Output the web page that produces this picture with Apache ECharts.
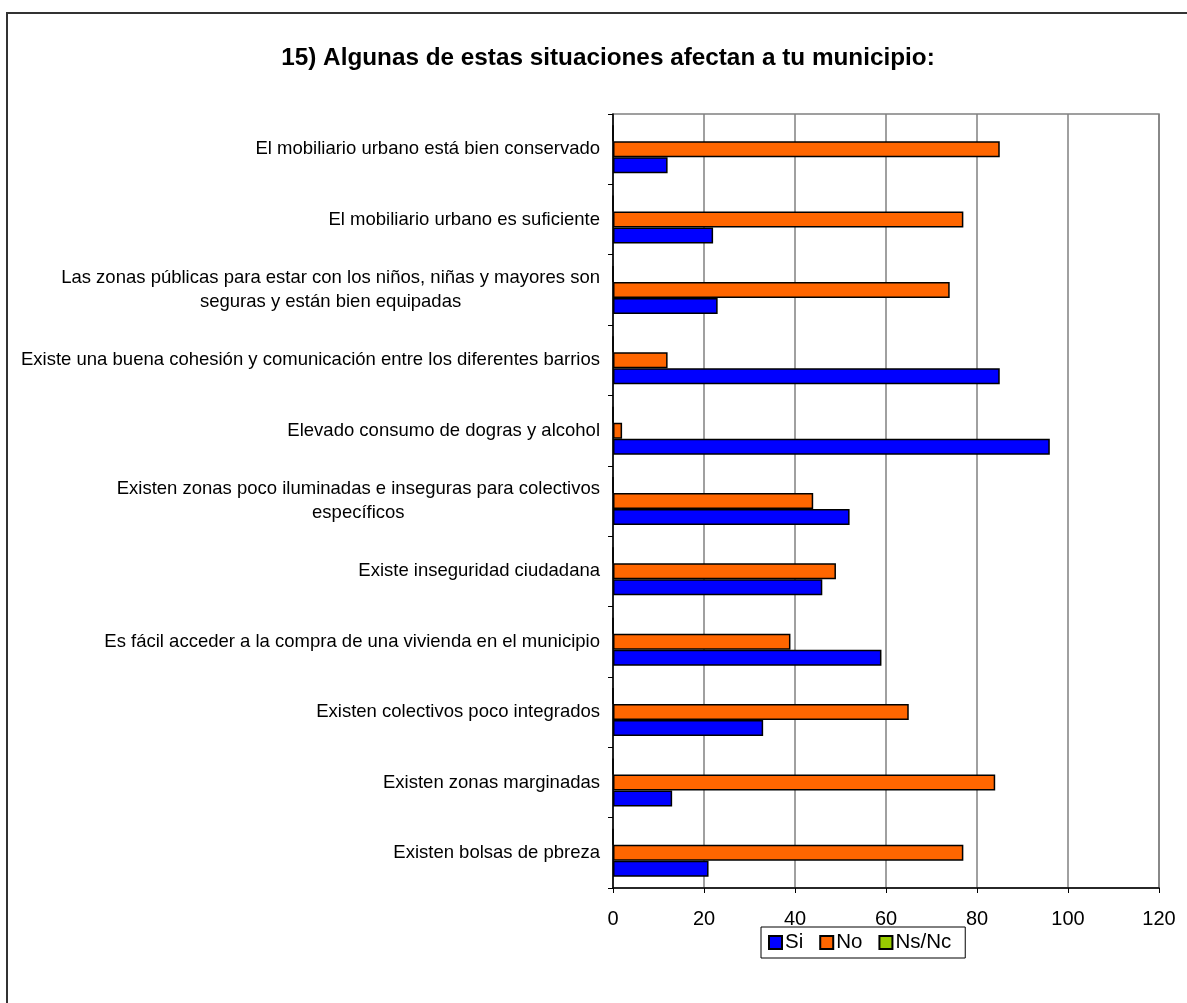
<!DOCTYPE html>
<html>
<head>
<meta charset="utf-8">
<script src="https://cdn.jsdelivr.net/npm/echarts@6/dist/echarts.min.js"></script>
<style>
html,body{margin:0;padding:0;background:#fff;}
#chart{width:1187px;height:1003px;}
</style>
</head>
<body>
<div id="chart"></div>
<script>
// Categories listed top to bottom as in the reference
const categories = [
  "El mobiliario urbano está bien conservado",
  "El mobiliario urbano es suficiente",
  "Las zonas públicas para estar con los niños, niñas y mayores son\nseguras y están bien equipadas",
  "Existe una buena cohesión y comunicación entre los diferentes barrios",
  "Elevado consumo de dogras y alcohol",
  "Existen zonas poco iluminadas e inseguras para colectivos\nespecíficos",
  "Existe inseguridad ciudadana",
  "Es fácil acceder a la compra de una vivienda en el municipio",
  "Existen colectivos poco integrados",
  "Existen zonas marginadas",
  "Existen bolsas de pbreza"
];
const siValues   = [12, 22, 23, 85, 96, 52, 46, 59, 33, 13, 21];
const noValues   = [85, 77, 74, 12, 2, 44, 49, 39, 65, 84, 77];
const nsncValues = [0, 0, 0, 0, 0, 0, 0, 0, 0, 0, 0];
const xTicks = [0, 20, 40, 60, 80, 100, 120];
const legendNames = ['Si', 'No', 'Ns/Nc'];

const FONT = '"Liberation Sans", Arial, sans-serif';
const chart = echarts.init(document.getElementById('chart'), null, {renderer: 'canvas'});

function barSeries(name, data, color) {
  return {
    name: name,
    type: 'bar',
    data: data,
    barWidth: 16,
    barGap: '0%',
    itemStyle: {color: color, borderColor: '#000', borderWidth: 1.5},
    emphasis: {disabled: true}
  };
}

const option = {
  animation: false,
  backgroundColor: '#fff',
  textStyle: {fontFamily: FONT},
  title: {
    text: '15) Algunas de estas situaciones afectan a tu municipio:',
    left: 603,
    textAlign: 'center',
    top: 41,
    textStyle: {fontFamily: FONT, fontSize: 24.3, fontWeight: 'bold', color: '#000'}
  },
  legend: {
    data: legendNames,
    left: 761,
    top: 927,
    orient: 'horizontal',
    icon: 'rect',
    itemWidth: 13,
    itemHeight: 13,
    itemGap: 16,
    padding: [5, 14, 5, 7],
    borderColor: '#000',
    borderWidth: 1,
    itemStyle: {borderColor: '#000', borderWidth: 2},
    textStyle: {fontFamily: FONT, fontSize: 20.5, color: '#000', padding: [0, 0, 0, -2]}
  },
  grid: {left: 613, right: 28, top: 114, bottom: 115, containLabel: false,
         show: true, borderColor: '#808080', borderWidth: 1.5},
  xAxis: {
    type: 'value',
    min: 0, max: 120, interval: 20,
    axisLine: {show: true, lineStyle: {color: '#000', width: 1.5}},
    axisTick: {show: true, length: 5, lineStyle: {color: '#000'}},
    splitLine: {show: true, lineStyle: {color: '#808080', width: 1.5}},
    axisLabel: {
      fontFamily: FONT, fontSize: 20, color: '#000', margin: 21,
      formatter: function (v) { return xTicks.indexOf(v) >= 0 ? String(v) : ''; }
    }
  },
  yAxis: {
    type: 'category',
    inverse: true,
    data: categories,
    axisLine: {show: true, lineStyle: {color: '#000', width: 1.5}},
    axisTick: {show: true, length: 5, inside: false, lineStyle: {color: '#000'}},
    splitLine: {show: false},
    axisLabel: {
      fontFamily: FONT, fontSize: 18.5, color: '#000', margin: 13, lineHeight: 24,
      formatter: function (v) {
        return v.split('\n').map(function (s) { return '{c|' + s + '}'; }).join('\n');
      },
      rich: {c: {align: 'center', fontFamily: FONT, fontSize: 18.5, color: '#000', lineHeight: 24}}
    }
  },
  // placement order top-to-bottom within each category: Ns/Nc, No, Si
  series: [
    barSeries('Ns/Nc', nsncValues, '#99CC00'),
    barSeries('No', noValues, '#FF6600'),
    barSeries('Si', siValues, '#0000FF')
  ],
  graphic: [{
    type: 'rect',
    shape: {x: 7, y: 13, width: 1200, height: 1100},
    style: {fill: 'none', stroke: '#333', lineWidth: 2},
    silent: true, z: 100
  }]
};
chart.setOption(option);
</script>
</body>
</html>
